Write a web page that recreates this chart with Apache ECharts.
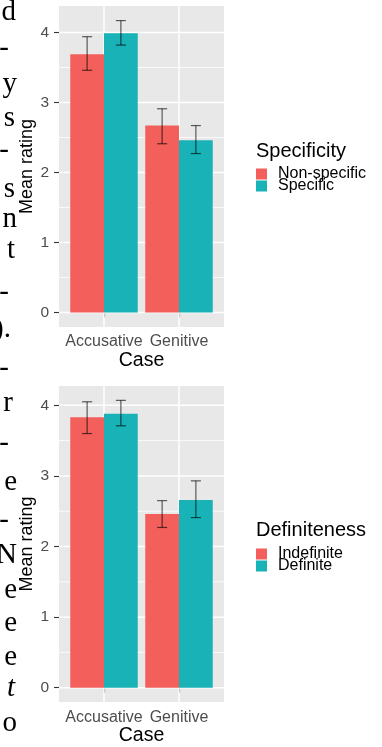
<!DOCTYPE html>
<html><head><meta charset="utf-8">
<script src="https://cdn.jsdelivr.net/npm/echarts@6/dist/echarts.min.js"></script>
<style>html,body{margin:0;padding:0;background:#fff;overflow:hidden}#c{width:382px;height:747px}</style>
</head><body><div id="c"></div>
<script>
// ---- data ----
const cases = ['Accusative', 'Genitive'];
const yTicks = [0, 1, 2, 3, 4];

const specTitle = 'Specificity';
const specLevels = ['Non-specific', 'Specific'];
const nonSpecMean = [3.69, 2.67];
const nonSpecLow  = [3.46, 2.41];
const nonSpecHigh = [3.94, 2.91];
const specMean = [3.99, 2.46];
const specLow  = [3.82, 2.27];
const specHigh = [4.17, 2.67];

const defTitle = 'Definiteness';
const defLevels = ['Indefinite', 'Definite'];
const indefMean = [3.83, 2.46];
const indefLow  = [3.60, 2.27];
const indefHigh = [4.05, 2.65];
const defMean = [3.88, 2.66];
const defLow  = [3.71, 2.41];
const defHigh = [4.07, 2.93];

// cut-off body text of the page on the left
const sideChars = ['d','-','y','s','-','s','n','t','-',').','-','r','-','e','-','N','e','e','e','t','o'];

// ---- layout / style ----
const FONT = 'Liberation Sans, Arial, sans-serif';
const RED = '#F35F5B', TEAL = '#19B2B7';
const PANEL = '#E8E8E8';
const sideY = [12, 48, 84, 118, 150, 189, 219, 250, 292, 329, 368, 403, 443, 482, 520, 555, 590, 623, 657, 688, 723];
const sideRight = [16,9,17,15,9,15,17,15,9,11,9,13,9,17,9,17,17,17,17,15,17];
const panels = [
  {top: 6, height: 321, legendTop: 166, titleTop: 141},
  {top: 386, height: 320.7, legendTop: 546, titleTop: 520}
];

const chart = echarts.init(document.getElementById('c'), null, {renderer: 'canvas'});

function gridLineData() {
  const d = [];
  yTicks.forEach(v => d.push([0, v, 1]));
  for (let i = 0; i < yTicks.length - 1; i++) d.push([0, (yTicks[i] + yTicks[i + 1]) / 2, 0]);
  cases.forEach((c, i) => d.push([1, i + 1, 1]));
  return d;
}

function gridSeries(idx, yMin, yMax) {
  return {
    type: 'custom', xAxisIndex: idx, yAxisIndex: idx, silent: true, z: 1,
    data: gridLineData(),
    encode: {x: [], y: []},
    renderItem: (params, api) => {
      const o = api.value(0), v = api.value(1), major = api.value(2);
      let p1, p2;
      if (o === 0) { p1 = api.coord([0.4, v]); p2 = api.coord([2.6, v]); }
      else { p1 = api.coord([v, yMin]); p2 = api.coord([v, yMax]); }
      return {type: 'line', shape: {x1: p1[0], y1: p1[1], x2: p2[0], y2: p2[1]},
        style: {stroke: '#FFFFFF', lineWidth: major ? 1.5 : 0.8}};
    }
  };
}

function barSeries(idx, name, color, offset, mean, low, high) {
  return {
    type: 'custom', name: name, xAxisIndex: idx, yAxisIndex: idx, z: 2,
    itemStyle: {color: color},
    data: cases.map((c, i) => [i + 1, mean[i], low[i], high[i]]),
    encode: {x: 0, y: 1},
    renderItem: (params, api) => {
      const x = api.value(0), m = api.value(1), lo = api.value(2), hi = api.value(3);
      const a = api.coord([x + offset, m]);
      const b = api.coord([x + offset + 0.45, 0]);
      const cx = x + offset + 0.225;
      const t1 = api.coord([cx - 0.067, hi]), t2 = api.coord([cx + 0.067, hi]);
      const b1 = api.coord([cx - 0.067, lo]), b2 = api.coord([cx + 0.067, lo]);
      const es = {stroke: 'rgba(0,0,0,0.62)', lineWidth: 1.2};
      return {type: 'group', children: [
        {type: 'rect', shape: {x: a[0], y: a[1], width: b[0] - a[0], height: b[1] - a[1]}, style: {fill: color}},
        {type: 'line', z2: 5, shape: {x1: (t1[0] + t2[0]) / 2, y1: t1[1], x2: (t1[0] + t2[0]) / 2, y2: b1[1]}, style: es},
        {type: 'line', z2: 5, shape: {x1: t1[0], y1: t1[1], x2: t2[0], y2: t2[1]}, style: es},
        {type: 'line', z2: 5, shape: {x1: b1[0], y1: b1[1], x2: b2[0], y2: b2[1]}, style: es}
      ]};
    }
  };
}

const sets = [
  {title: specTitle, levels: specLevels, a: [nonSpecMean, nonSpecLow, nonSpecHigh], b: [specMean, specLow, specHigh]},
  {title: defTitle, levels: defLevels, a: [indefMean, indefLow, indefHigh], b: [defMean, defLow, defHigh]}
];

const grids = [], xAxes = [], yAxes = [], series = [], legends = [], titles = [];
sets.forEach((s, i) => {
  const P = panels[i];
  const maxV = Math.max(...s.a[2], ...s.b[2]);
  const yMin = -0.05 * maxV, yMax = 1.05 * maxV;
  grids.push({left: 59, top: P.top, width: 165, height: P.height, show: true,
    backgroundColor: PANEL, borderWidth: 0});
  xAxes.push({gridIndex: i, type: 'value', min: 0.4, max: 2.6,
    axisLine: {show: false}, splitLine: {show: false},
    axisTick: {show: true, customValues: [1, 2], length: 5, lineStyle: {color: '#333333', width: 1.1}},
    axisLabel: {customValues: [1, 2], formatter: v => cases[Math.round(v) - 1], margin: 7,
      color: '#4D4D4D', fontSize: 16, fontFamily: FONT},
    name: 'Case', nameLocation: 'middle', nameGap: 22,
    nameTextStyle: {color: '#000', fontSize: 19.5, fontFamily: FONT}});
  yAxes.push({gridIndex: i, type: 'value', min: yMin, max: yMax,
    axisLine: {show: false}, splitLine: {show: false},
    axisTick: {show: true, customValues: yTicks, length: 5, lineStyle: {color: '#333333', width: 1.1}},
    axisLabel: {customValues: yTicks, margin: 10, color: '#4D4D4D', fontSize: 15.5, fontFamily: FONT},
    name: 'Mean rating', nameLocation: 'middle', nameGap: 22,
    nameTextStyle: {color: '#000', fontSize: 18, fontFamily: FONT}});
  series.push(gridSeries(i, yMin, yMax));
  series.push(barSeries(i, s.levels[0], RED, -0.45, ...s.a));
  series.push(barSeries(i, s.levels[1], TEAL, 0, ...s.b));
  legends.push({data: s.levels, orient: 'vertical', left: 256, top: P.legendTop,
    icon: 'rect', itemWidth: 11, itemHeight: 11, itemGap: -4, padding: 0, selectedMode: false,
    textStyle: {color: '#000', fontSize: 16, fontFamily: FONT, padding: [0, 0, 0, 6]}});
  titles.push({text: s.title, left: 256, top: P.titleTop, padding: 0,
    textStyle: {color: '#000', fontSize: 20, fontWeight: 'normal', fontFamily: FONT, lineHeight: 20}});
});

const graphics = sideChars.map((ch, i) => ({
  type: 'text', x: sideRight[i], y: sideY[i], silent: true,
  style: {text: ch, font: (ch === 't' && i === 19 ? 'italic ' : '') + '29px "Liberation Serif", "DejaVu Serif", serif',
    fill: '#000', textAlign: 'right', textVerticalAlign: 'middle'}
}));

chart.setOption({
  animation: false,
  backgroundColor: '#FFFFFF',
  title: titles,
  legend: legends,
  grid: grids,
  xAxis: xAxes,
  yAxis: yAxes,
  series: series,
  graphic: graphics
});
</script></body></html>
